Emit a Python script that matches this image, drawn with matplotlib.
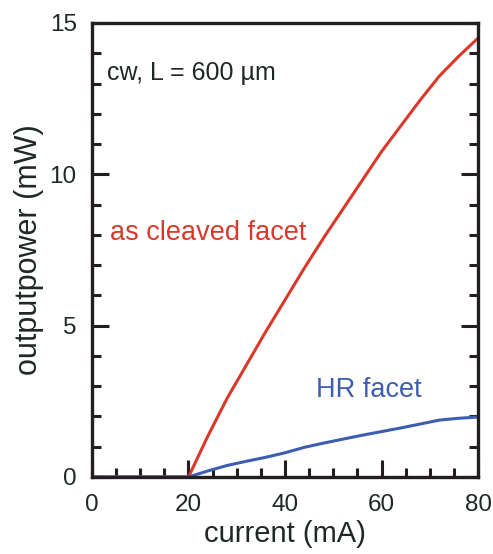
import numpy as np
import matplotlib
matplotlib.use('Agg')
import matplotlib.pyplot as plt
from matplotlib.ticker import MultipleLocator

plt.rcParams['font.family'] = ['Liberation Sans', 'DejaVu Sans']

# current (mA) and output power (mW)
current = [0, 20, 24, 28, 32, 36, 40, 44, 48, 52, 56, 60, 64, 68, 72, 76, 80]
p_cleaved = [0, 0, 1.35, 2.6, 3.7, 4.8, 5.85, 6.9, 7.9, 8.85, 9.8, 10.75, 11.6, 12.45, 13.25, 13.9, 14.5]
p_hr = [0, 0, 0.2, 0.38, 0.52, 0.65, 0.8, 0.98, 1.12, 1.25, 1.38, 1.5, 1.62, 1.75, 1.88, 1.94, 1.98]

red = '#d8392b'
blue = '#3d5db0'
ink = '#1f2727'
frame = '#231f20'

fig = plt.figure(figsize=(4.93, 5.54), dpi=100)
ax = fig.add_axes([0.1866, 0.139, 0.783, 0.8195])

ax.plot(current, p_cleaved, color=red, lw=2.2, solid_joinstyle='round')
ax.plot(current, p_hr, color=blue, lw=2.2, solid_joinstyle='round')

ax.set_xlim(0, 80)
ax.set_ylim(0, 15)
ax.xaxis.set_major_locator(MultipleLocator(20))
ax.xaxis.set_minor_locator(MultipleLocator(5))
ax.yaxis.set_major_locator(MultipleLocator(5))
ax.yaxis.set_minor_locator(MultipleLocator(1))

ax.tick_params(which='both', direction='in', top=False, right=True,
               width=2.2, color=frame, labelsize=17.5, labelcolor=ink)
ax.tick_params(axis='x', pad=12)
ax.tick_params(axis='y', pad=11)
ax.tick_params(which='major', length=12)
ax.tick_params(which='minor', length=6.5)
for s in ax.spines.values():
    s.set_linewidth(2.4)
    s.set_color(frame)

ax.set_xlabel('current (mA)', fontsize=21, color=ink, labelpad=3)
ax.set_ylabel('outputpower (mW)', fontsize=22, color=ink, labelpad=4)

ax.text(3.1, 13.35, 'cw, L = 600 µm', fontsize=18, color=ink, va='center')
ax.text(3.7, 8.06, 'as cleaved facet', fontsize=19.5, color=red, va='center')
ax.text(46.5, 2.87, 'HR facet', fontsize=19.5, color=blue, va='center')

fig.savefig('out.png', dpi=100)
